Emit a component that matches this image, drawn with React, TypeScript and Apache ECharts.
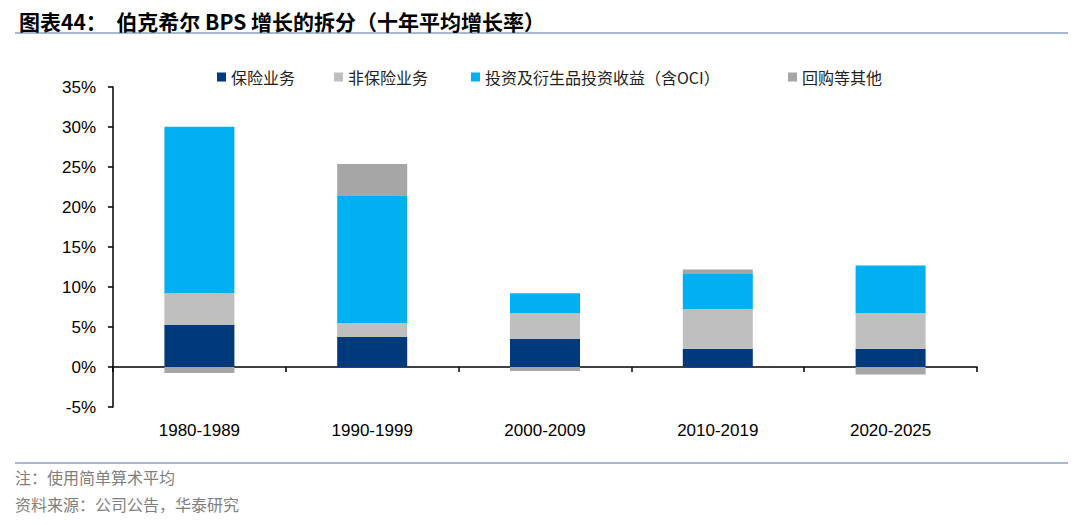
import React, { useEffect, useRef } from "react";
import * as echarts from "echarts";

const categories = ["1980-1989", "1990-1999", "2000-2009", "2010-2019", "2020-2025"];
const insurance = [5.24, 3.74, 3.54, 2.29, 2.29];
const nonInsurance = [3.99, 1.75, 3.19, 4.94, 4.44];
const investment = [20.8, 15.88, 2.5, 4.49, 5.95];
const buybackOther = [-0.75, 3.99, -0.5, 0.46, -0.95];
const seriesNames = ["保险业务", "非保险业务", "投资及衍生品投资收益（含OCI）", "回购等其他"];
const seriesColors = ["#003A7A", "#BFBFBF", "#00B0F0", "#A6A6A6"];
const yTicks = [-5, 35, 5];

const CJK = "'Noto Sans CJK SC', 'Liberation Sans', sans-serif";
const LATIN = "'Liberation Sans', Arial, sans-serif";

// left edge of each legend icon
const legendLeft = [212, 329, 466, 783];

const App: React.FC = () => {
  const chartRef = useRef<HTMLDivElement>(null);

  useEffect(() => {
    document.body.style.margin = "0";
    const chart = echarts.init(chartRef.current!, undefined, { renderer: "svg" });
    const values = [insurance, nonInsurance, investment, buybackOther];

    const option: echarts.EChartsOption = {
      animation: false,
      backgroundColor: "#ffffff",
      title: {
        text: "图表44：  伯克希尔 BPS 增长的拆分（十年平均增长率）",
        left: 14,
        top: 5,
        textStyle: {
          fontFamily: CJK,
          fontSize: 21,
          fontWeight: "bold",
          color: "#000000",
        },
      },
      legend: seriesNames.map((name, i) => ({
        left: legendLeft[i],
        top: 64,
        itemWidth: 9,
        itemHeight: 9,
        icon: "rect",
        textStyle: { fontFamily: CJK, fontSize: 16, color: "#222222" },
        data: [name],
      })),
      grid: { left: 113, right: 103, top: 87, bottom: 118 },
      xAxis: {
        type: "category",
        data: categories,
        axisLine: { onZero: true, lineStyle: { color: "#000000", width: 1.5 } },
        axisTick: { show: true, length: 5, lineStyle: { color: "#000000", width: 1.5 } },
        axisLabel: {
          margin: 15,
          fontFamily: LATIN,
          fontSize: 17,
          color: "#000000",
        },
      },
      yAxis: {
        type: "value",
        min: yTicks[0],
        max: yTicks[1],
        interval: yTicks[2],
        splitLine: { show: false },
        axisLine: { show: true, lineStyle: { color: "#000000", width: 1.5 } },
        axisTick: { show: true, length: 5, lineStyle: { color: "#000000", width: 1.5 } },
        axisLabel: {
          formatter: "{value}%",
          margin: 17,
          fontFamily: LATIN,
          fontSize: 17,
          color: "#000000",
        },
      },
      graphic: [
        {
          type: "line",
          shape: { x1: 15, y1: 33, x2: 1068, y2: 33 },
          style: { stroke: "#A7B9D1", lineWidth: 2 },
        },
        {
          type: "line",
          shape: { x1: 15, y1: 463, x2: 1068, y2: 463 },
          style: { stroke: "#A7B9D1", lineWidth: 2 },
        },
        {
          type: "text",
          left: 15,
          top: 469,
          style: { text: "注：使用简单算术平均", fontFamily: CJK, fontSize: 16, fill: "#7F7F7F" },
        },
        {
          type: "text",
          left: 15,
          top: 496,
          style: { text: "资料来源：公司公告，华泰研究", fontFamily: CJK, fontSize: 16, fill: "#7F7F7F" },
        },
      ],
      series: seriesNames.map((name, i) => ({
        name,
        type: "bar",
        stack: "total",
        barWidth: 70,
        itemStyle: { color: seriesColors[i] },
        data: values[i],
      })),
    };

    chart.setOption(option);
    return () => {
      chart.dispose();
    };
  }, []);

  return <div ref={chartRef} style={{ width: "1080px", height: "525px" }} />;
};

export default App;
